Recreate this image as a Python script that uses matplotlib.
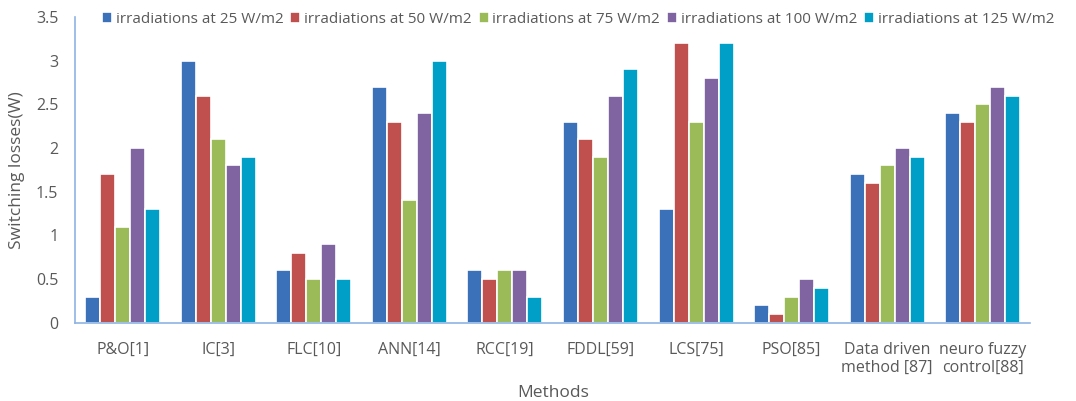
import numpy as np
import matplotlib.pyplot as plt

plt.rcParams['font.family'] = ['Open Sans', 'DejaVu Sans']

methods = ["P&O[1]", "IC[3]", "FLC[10]", "ANN[14]", "RCC[19]", "FDDL[59]",
           "LCS[75]", "PSO[85]", "Data driven\nmethod [87]", "neuro fuzzy\ncontrol[88]"]
series_names = ["irradiations at 25 W/m2", "irradiations at 50 W/m2",
                "irradiations at 75 W/m2", "irradiations at 100 W/m2",
                "irradiations at 125 W/m2"]
irr_25 = [0.3, 3.0, 0.6, 2.7, 0.6, 2.3, 1.3, 0.2, 1.7, 2.4]
irr_50 = [1.7, 2.6, 0.8, 2.3, 0.5, 2.1, 3.2, 0.1, 1.6, 2.3]
irr_75 = [1.1, 2.1, 0.5, 1.4, 0.6, 1.9, 2.3, 0.3, 1.8, 2.5]
irr_100 = [2.0, 1.8, 0.9, 2.4, 0.6, 2.6, 2.8, 0.5, 2.0, 2.7]
irr_125 = [1.3, 1.9, 0.5, 3.0, 0.3, 2.9, 3.2, 0.4, 1.9, 2.6]

colors = ["#3a71b8", "#c0504d", "#9bbb59", "#8064a2", "#009fc7"]
text_grey = "#595959"
axis_blue = "#8eb4e3"

fig = plt.figure(figsize=(10.76, 4.01), dpi=100)
ax = fig.add_axes([0.0697, 0.195, 0.888, 0.763])

x = np.arange(len(methods))
slot = 0.157
for i, (vals, name) in enumerate(zip([irr_25, irr_50, irr_75, irr_100, irr_125], series_names)):
    ax.bar(x + (i - 2) * slot, vals, slot, color=colors[i], edgecolor="white",
           linewidth=1.2, label=name)

ax.set_xlim(-0.5, len(methods) - 0.5)
ax.set_ylim(0, 3.5)
ax.set_yticks(np.arange(0, 3.51, 0.5))
ax.set_yticklabels(["0", "0.5", "1", "1.5", "2", "2.5", "3", "3.5"])
ax.set_xticks(x)
ax.set_xticklabels(methods, linespacing=1.1)
ax.tick_params(length=0, colors=text_grey, labelsize=11.5)
ax.tick_params(axis="x", pad=14)
ax.tick_params(axis="y", pad=12)

for s in ["top", "right"]:
    ax.spines[s].set_visible(False)
for s in ["left", "bottom"]:
    ax.spines[s].set_color(axis_blue)
    ax.spines[s].set_linewidth(1.2)

ax.set_ylabel("Switching losses(W)", color=text_grey, fontsize=12.5, labelpad=8)
ax.set_xlabel("Methods", color=text_grey, fontsize=12.5, labelpad=7)

fig.legend(loc="upper left", bbox_to_anchor=(0.082, 1.005), ncol=5, frameon=False,
           fontsize=11, handlelength=0.65, handleheight=0.7, handletextpad=0.25,
           columnspacing=0.45, labelcolor=text_grey)

fig.savefig("out.png", dpi=100)
